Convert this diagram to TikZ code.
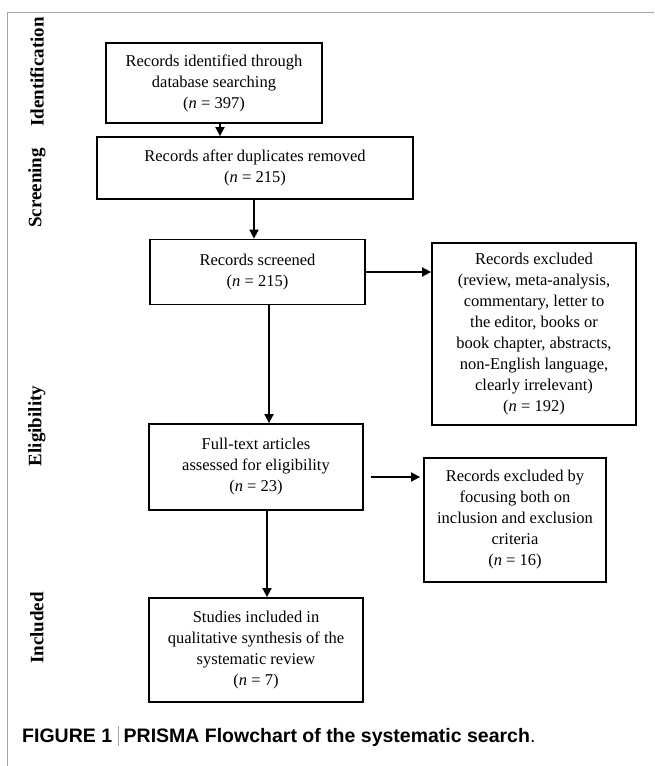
\documentclass[tikz,border=0pt]{standalone}
\usepackage{fontspec}
\setmainfont{Liberation Serif}
\newfontfamily\capfont{Liberation Sans}
\usetikzlibrary{arrows.meta}

\tikzset{
  box/.style={draw, line width=1.8pt, align=center, inner sep=0pt,
    font=\fontsize{16.5}{21}\selectfont},
  phase/.style={rotate=90, font=\bfseries\fontsize{19}{21}\selectfont},
  flow/.style={line width=1.8pt, -{Triangle[length=9pt,width=9pt]}},
}

\begin{document}
\begin{tikzpicture}[x=1pt, y=-1pt]
\useasboundingbox (0,0) rectangle (654,766);

% frame
\draw [gray!70, line width=0.8pt] (7,766) -- (7,12) -- (654,12);

% phases
\node [phase] (lident) at (37,72)  {Identification};
\node [phase] (lscreen) at (37,188) {Screening};
\node [phase] (lelig) at (37,426) {Eligibility};
\node [phase] (lincl) at (37,628) {Included};

% boxes
\node [box, minimum width=216pt, minimum height=80pt] (ident) at (214,83)
  {Records identified through\\database searching\\(\textit{n} = 397)};
\node [box, minimum width=316pt, minimum height=62pt] (dupl) at (255,168)
  {Records after duplicates removed\\(\textit{n} = 215)};
\node [box, minimum width=215pt, minimum height=65pt] (screen) at (257.5,272)
  {Records screened\\(\textit{n} = 215)};
\node [box, minimum width=204pt, minimum height=182pt] (excl1) at (534,334)
  {Records excluded\\(review, meta-analysis,\\commentary, letter to\\the editor, books or\\book chapter, abstracts,\\non-English language,\\clearly irrelevant)\\(\textit{n} = 192)};
\node [box, minimum width=214pt, minimum height=86pt] (full) at (256,467)
  {Full-text articles\\assessed for eligibility\\(\textit{n} = 23)};
\node [box, minimum width=182pt, minimum height=124pt] (excl2) at (515,520)
  {Records excluded by\\focusing both on\\inclusion and exclusion\\criteria\\(\textit{n} = 16)};
\node [box, minimum width=214pt, minimum height=104pt] (incl) at (256,650)
  {Studies included in\\qualitative synthesis of the\\systematic review\\(\textit{n} = 7)};

% caption
\node [anchor=base west, inner sep=0pt, font=\capfont\fontsize{19.5}{22}\selectfont] (cap) at (22,742)
  {\textbf{FIGURE 1} \textcolor{gray!70}{\rule[-4pt]{0.7pt}{20pt}} \textbf{PRISMA Flowchart of the systematic search}.};

% arrows
\coordinate (a1) at (220,0);
\coordinate (a2) at (254,0);
\coordinate (a3) at (269,0);
\coordinate (a4) at (267,0);
\coordinate (a5) at (0,477);
\draw [flow] (ident.south -| a1) -- (dupl.north -| a1);
\draw [flow] (dupl.south -| a2) -- (screen.north -| a2);
\draw [flow] (screen.south -| a3) -- (full.north -| a3);
\draw [flow] (full.south -| a4) -- (incl.north -| a4);
\draw [flow] (screen.east) -- (excl1.west |- screen.east);
\draw [flow, shorten <=7pt, shorten >=3pt] (full.east |- a5) -- (excl2.west |- a5);

\end{tikzpicture}
\end{document}
